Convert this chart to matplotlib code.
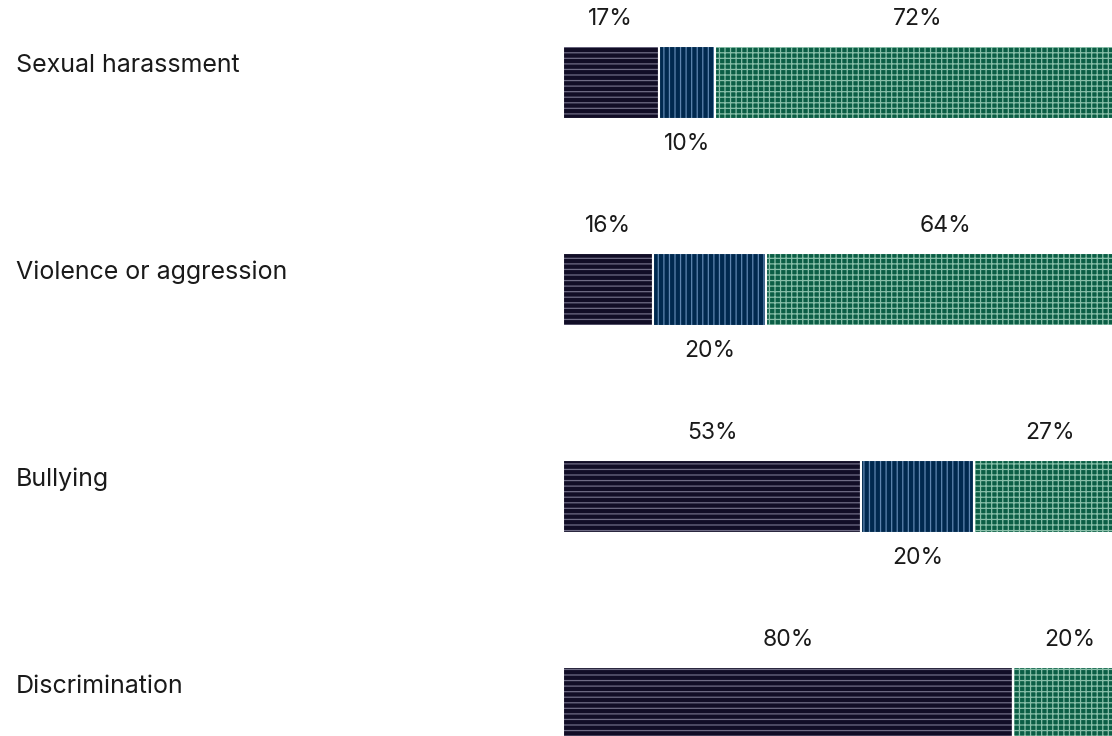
import numpy as np
import matplotlib.pyplot as plt

# data
categories = ['Sexual harassment', 'Violence or aggression', 'Bullying', 'Discrimination']
first = [17, 16, 53, 80]
second = [10, 20, 20, 0]
third = [72, 64, 27, 20]

face_cols = ['#110d26', '#00294f', '#0b5e45']
hatch_cols = ['#6f6c85', '#5f86b0', '#88bfa9']
hatches = ['---', '|||', '+++']

plt.rcParams['font.family'] = ['Inter', 'DejaVu Sans']
plt.rcParams['hatch.linewidth'] = 0.9

fig = plt.figure(figsize=(11.12, 7.36), dpi=100)
ax = fig.add_axes([563 / 1112, 0, 1 - 563 / 1112, 1])

y = np.arange(len(categories))
h = 73 / 207
series = [first, second, third]
left = np.zeros(len(categories))
for i, vals in enumerate(series):
    vals = np.array(vals, dtype=float)
    ax.barh(y, vals, left=left, height=h, color=face_cols[i],
            edgecolor=hatch_cols[i], hatch=hatches[i], linewidth=0)
    ax.barh(y, vals, left=left, height=h, color='none',
            edgecolor='white', linewidth=1.5)
    for j, v in enumerate(vals):
        if v == 0:
            continue
        cx = left[j] + v / 2
        if i == 1:
            ty = y[j] + h / 2 + 0.125
        else:
            ty = y[j] - h / 2 - 0.13
        ax.text(cx, ty, f'{int(v)}%', ha='center', va='center', fontsize=16.5,
                color='#1a1a1a', clip_on=False)
    left += vals

ax.set_xlim(0, 549 / 5.63)
ax.set_ylim((736 - 82) / 207, -82 / 207)
ax.axis('off')

for j, c in enumerate(categories):
    ax.text(-563 / 5.63 + 16 / 5.63, y[j] - 0.08, c, ha='left', va='center',
            fontsize=18, color='#1a1a1a', clip_on=False)

fig.savefig('out.png', dpi=100)
